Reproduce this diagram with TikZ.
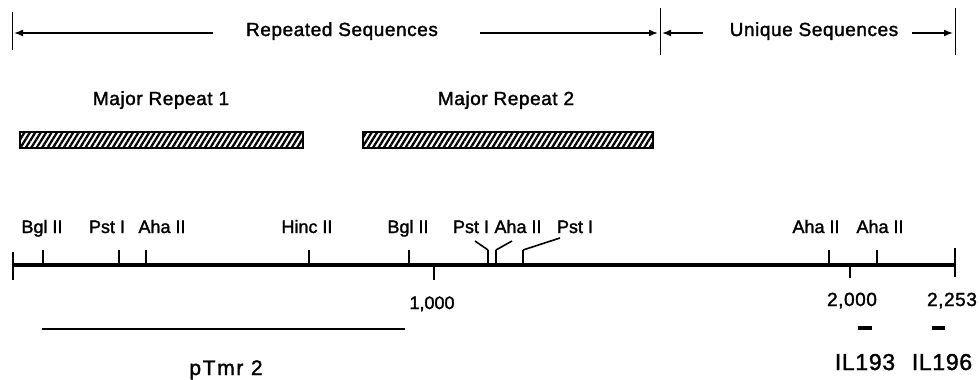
\documentclass[tikz,border=0pt]{standalone}
\usepackage{fontspec}
\setmainfont{Liberation Sans}[LetterSpace=3,FakeBold=1.6]
\newfontfamily\plainsans{Liberation Sans}[FakeBold=1.6]
\newfontfamily\widesans{Liberation Sans}[LetterSpace=8,FakeBold=1.6]
\usetikzlibrary{arrows.meta,patterns.meta}
\tikzset{
  txt/.style={inner sep=0pt, anchor=base, font=\fontsize{19}{21}\selectfont},
  site/.style={inner sep=0pt, anchor=base, font=\fontsize{18}{20}\plainsans},
  big/.style={inner sep=0pt, anchor=base, font=\fontsize{23}{25}\selectfont},
  span/.style={line width=1.6pt, -{Latex[length=9pt,width=7pt]}},
  bound/.style={line width=1pt},
  tick/.style={line width=1.6pt},
  hatchbar/.style={draw, line width=1.8pt, inner sep=0pt, minimum height=16pt,
    pattern={Lines[angle=58, distance=4.6pt, line width=2.3pt]}},
}
\begin{document}
\begin{tikzpicture}[x=1pt,y=-1pt]
\useasboundingbox (0,0) rectangle (980,380);
% top spans
\coordinate (v1t) at (12,12); \coordinate (v1b) at (12,50);
\coordinate (v2t) at (660,8); \coordinate (v2b) at (660,55);
\coordinate (v3t) at (955,8); \coordinate (v3b) at (955,55);
\draw[bound] (v1t) -- (v1b);
\draw[bound] (v2t) -- (v2b);
\draw[bound] (v3t) -- (v3b);
\node[txt] (rep) at (342,36) {Repeated Sequences};
\node[txt] (uni) at (814,36) {Unique Sequences};
\coordinate (a1s) at (213,33); \coordinate (a1e) at (14,33);
\coordinate (a2s) at (480,33); \coordinate (a2e) at (658,33);
\coordinate (a3s) at (703,33); \coordinate (a3e) at (662,33);
\coordinate (a4s) at (912,33); \coordinate (a4e) at (953,33);
\draw[span] (a1s) -- (a1e);
\draw[span] (a2s) -- (a2e);
\draw[span] (a3s) -- (a3e);
\draw[span] (a4s) -- (a4e);
% major repeats
\node[txt] (mr1) at (161,105) {Major Repeat 1};
\node[txt] (mr2) at (506,105) {Major Repeat 2};
\node[hatchbar, minimum width=283pt] (bar1) at (161.5,140) {};
\node[hatchbar, minimum width=290pt] (bar2) at (508,140) {};
% main map line
\coordinate (ml) at (13,265); \coordinate (mr) at (955,265);
\draw[line width=3.2pt] (ml) -- (mr);
\coordinate (lt) at (13,252); \coordinate (lb) at (13,280);
\draw[tick] (lt) -- (lb);
\coordinate (rt) at (955,248); \coordinate (rb) at (955,277);
\draw[tick] (rt) -- (rb);
% upper ticks
\foreach \n/\x in {1/43,2/119,3/146,4/309,5/409,6/488,7/496,8/523,9/829,10/877}{
  \coordinate (s\n) at (\x,250);
  \coordinate (b\n) at (\x,265);
  \draw[tick] (s\n) -- (b\n);
}
% diagonal leaders
\coordinate (d6) at (475,241);
\coordinate (d7) at (512,241);
\coordinate (d8) at (560,238);
\draw[tick] (d6) -- (s6);
\draw[tick] (d7) -- (s7);
\draw[tick] (d8) -- (s8);
% lower ticks
\coordinate (k1t) at (434,265); \coordinate (k1b) at (434,280);
\coordinate (k2t) at (850,265); \coordinate (k2b) at (850,278);
\draw[tick] (k1t) -- (k1b);
\draw[tick] (k2t) -- (k2b);
% site labels
\node[site] (l1) at (42,233) {Bgl II};
\node[site] (l2) at (107,233) {Pst I};
\node[site] (l3) at (162,233) {Aha II};
\node[site] (l4) at (307,233) {Hinc II};
\node[site] (l5) at (408,233) {Bgl II};
\node[site] (l6) at (471,233) {Pst I};
\node[site] (l7) at (518,233) {Aha II};
\node[site] (l8) at (575,233) {Pst I};
\node[site] (l9) at (816,233) {Aha II};
\node[site] (l10) at (880,233) {Aha II};
% scale numbers
\node[txt, font=\fontsize{18}{20}\plainsans] (n1) at (432,309) {1,000};
\node[txt] (n2) at (852,306) {2,000};
\node[txt] (n3) at (952,306) {2,253};
% clones
\coordinate (p1) at (42,329); \coordinate (p2) at (405,329);
\draw[line width=2.8pt] (p1) -- (p2);
\node[txt, font=\fontsize{21}{23}\widesans] (ptmr) at (226,375) {pTmr 2};
\coordinate (c1a) at (858,328); \coordinate (c1b) at (872,328);
\coordinate (c2a) at (932,328); \coordinate (c2b) at (945,328);
\draw[line width=3.2pt] (c1a) -- (c1b);
\draw[line width=3.2pt] (c2a) -- (c2b);
\node[big] (il1) at (865,370) {IL193};
\node[big] (il2) at (942,370) {IL196};
\end{tikzpicture}
\end{document}
